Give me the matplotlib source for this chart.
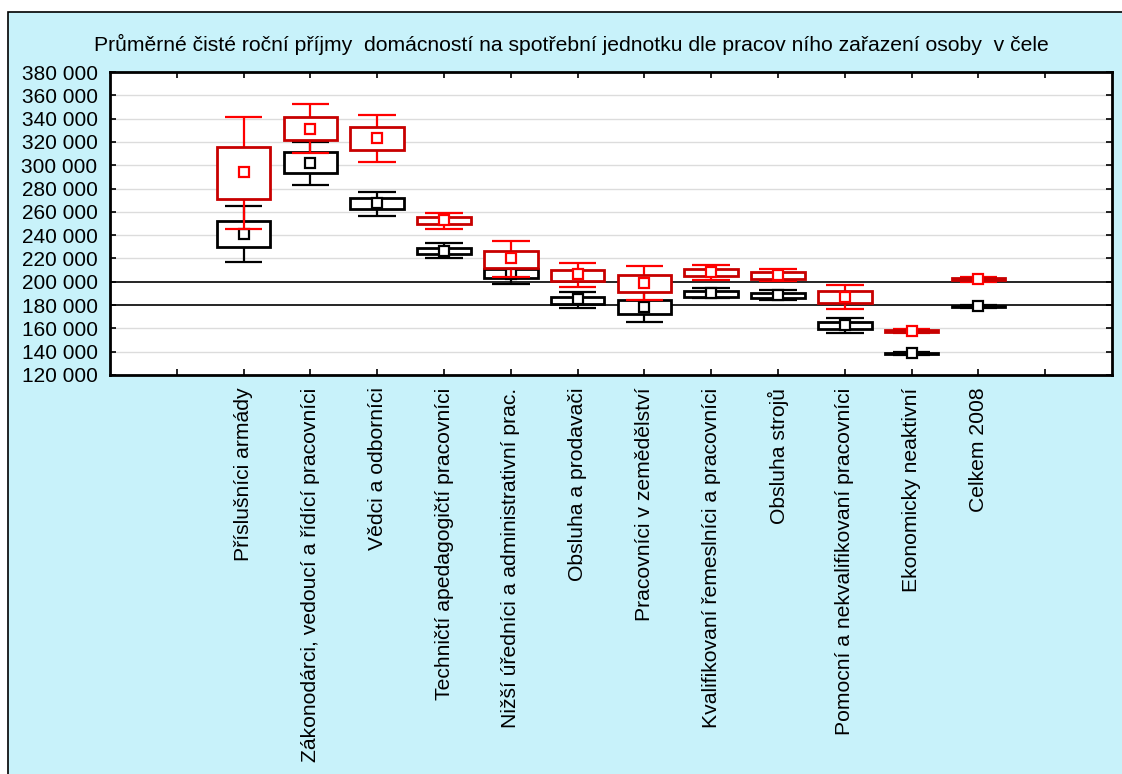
import matplotlib
matplotlib.use("Agg")
import matplotlib.pyplot as plt
from matplotlib.patches import Rectangle
import numpy as np

plt.rcParams['font.family'] = ['Liberation Sans', 'DejaVu Sans']

title = "Průměrné čisté roční příjmy  domácností na spotřební jednotku dle pracov ního zařazení osoby  v čele"
categories = [
    "Příslušníci armády",
    "Zákonodárci, vedoucí a řídící pracovníci",
    "Vědci a odborníci",
    "Techničtí apedagogičtí pracovníci",
    "Nižší úředníci a administrativní prac.",
    "Obsluha a prodavači",
    "Pracovníci v zemědělství",
    "Kvalifikovaní řemeslníci a pracovníci",
    "Obsluha strojů",
    "Pomocní a nekvalifikovaní pracovníci",
    "Ekonomicky neaktivní",
    "Celkem 2008",
]

# black series
black_mean = [241000, 301700, 267300, 226400, 207000, 184900, 178600, 190100, 188700, 162900, 138600, 178900]
black_box_lo = [230100, 293100, 262200, 223800, 203000, 180700, 172400, 187200, 186300, 159500, 137900, 178300]
black_box_hi = [252400, 311100, 271900, 229300, 211000, 187200, 184600, 191800, 190600, 165200, 139300, 179500]
black_wh_lo = [217200, 283000, 256400, 220100, 198100, 177300, 165500, 185700, 184600, 155800, 137100, 177800]
black_wh_hi = [265300, 320000, 277300, 233000, 215000, 191200, 192000, 194400, 192900, 169200, 140100, 180000]

# red series
red_mean = [294000, 330800, 323400, 252700, 220100, 206400, 198700, 208400, 205800, 186900, 157800, 202400]
red_box_lo = [270800, 321400, 313300, 249600, 212100, 201000, 191500, 205000, 202700, 181800, 157000, 201700]
red_box_hi = [315900, 341400, 332800, 255900, 226400, 210400, 205800, 211000, 208400, 191800, 158600, 203100]
red_wh_lo = [245000, 310200, 303000, 245600, 204100, 195500, 184100, 201800, 201000, 176400, 156200, 200200]
red_wh_hi = [341700, 352300, 342800, 259300, 235000, 216400, 213300, 214600, 211000, 197300, 159400, 203800]

ref_lines = [200000, 180000]
yticks = list(range(120000, 380001, 20000))

BG = '#C8F2FA'

fig = plt.figure(figsize=(11.22, 7.74), dpi=100)
fig.patch.set_facecolor('white')
bg = Rectangle((8 / 1122, -0.05), 1.2, 1 - 12 / 774 + 0.05, transform=fig.transFigure,
               facecolor=BG, edgecolor='black', linewidth=1.2, zorder=-10)
fig.patches.append(bg)

ax = fig.add_axes([110 / 1122, 1 - 375 / 774, (1112 - 110) / 1122, (375 - 72) / 774])
ax.set_facecolor('white')

x = np.arange(len(categories)) + 2
ax.set_xlim(0, 15)
ax.set_ylim(120000, 380000)

for yv in yticks[1:-1]:
    if yv in ref_lines:
        continue
    ax.axhline(yv, color='#DCDCDC', lw=1.0, zorder=0)
for yv in ref_lines:
    ax.axhline(yv, color='black', lw=1.2, zorder=1)


def draw_series(mean, blo, bhi, wlo, whi, box_col, wh_col, z):
    bw = 0.8
    cw = 0.56
    for xi, m, b0, b1, w0, w1 in zip(x, mean, blo, bhi, wlo, whi):
        ax.plot([xi, xi], [w0, b0], color=wh_col, lw=1.6, zorder=z, solid_capstyle='butt')
        ax.plot([xi, xi], [b1, w1], color=wh_col, lw=1.6, zorder=z, solid_capstyle='butt')
        ax.plot([xi - cw / 2, xi + cw / 2], [w0, w0], color=wh_col, lw=1.6, zorder=z, solid_capstyle='butt')
        ax.plot([xi - cw / 2, xi + cw / 2], [w1, w1], color=wh_col, lw=1.6, zorder=z, solid_capstyle='butt')
        ax.add_patch(Rectangle((xi - bw / 2, b0), bw, b1 - b0, facecolor='white',
                               edgecolor=box_col, lw=2.0, zorder=z + 0.1, joinstyle='miter'))
        ax.plot([xi], [m], marker='s', ms=6.5, mfc='white', mec=wh_col, mew=1.6,
                linestyle='none', zorder=z + 0.2)


draw_series(black_mean, black_box_lo, black_box_hi, black_wh_lo, black_wh_hi, 'black', 'black', 3)
draw_series(red_mean, red_box_lo, red_box_hi, red_wh_lo, red_wh_hi, '#C80000', '#FF0000', 5)

ax.set_yticks(yticks)
ax.set_yticklabels([f"{v:,}".replace(",", " ") for v in yticks], fontsize=15)
tick_pos = np.arange(1, 15)
tick_labels = [''] + categories + ['']
ax.set_xticks(tick_pos)
ax.set_xticklabels(tick_labels, rotation=90, fontsize=15.2, va='top', ha='center')
ax.tick_params(axis='x', direction='in', length=4, width=1.2, top=True, bottom=True, pad=9)
ax.tick_params(axis='y', direction='in', length=4, width=1.2, left=True, right=True, pad=9)
for sp in ax.spines.values():
    sp.set_linewidth(2.0)
    sp.set_color('black')
    sp.set_zorder(10)

fig.text(571 / 1122, 1 - 44 / 774, title, fontsize=15.2, ha='center', va='center')

fig.savefig('out.png', dpi=100)
